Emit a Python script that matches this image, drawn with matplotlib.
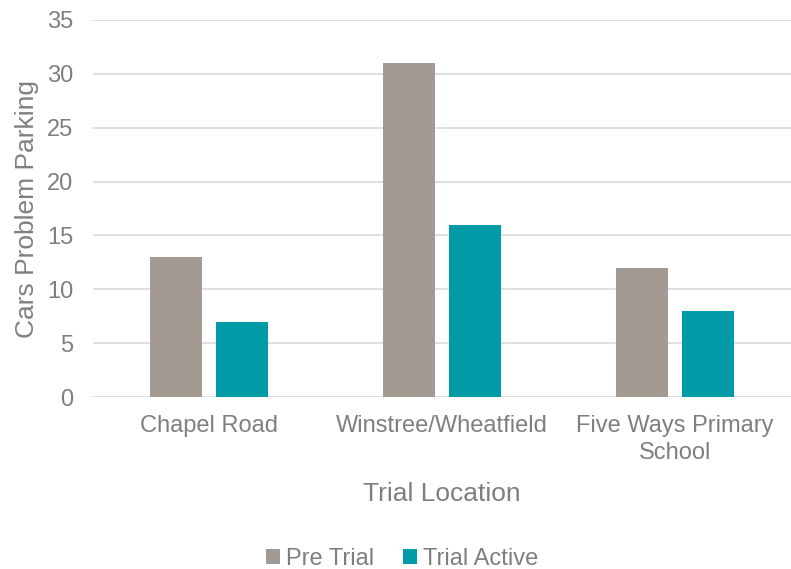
import matplotlib
matplotlib.use("Agg")
import matplotlib.pyplot as plt
import numpy as np

categories = ["Chapel Road", "Winstree/Wheatfield", "Five Ways Primary\nSchool"]
pre_trial = [13, 31, 12]
trial_active = [7, 16, 8]
series_names = ["Pre Trial", "Trial Active"]
yticks = [0, 5, 10, 15, 20, 25, 30, 35]

plt.rcParams['font.family'] = ['Liberation Sans', 'DejaVu Sans']
txt = '#7F7F7F'
c_pre = '#A39A93'
c_act = '#009BA6'

fig = plt.figure(figsize=(7.91, 5.69), dpi=100)
ax = fig.add_axes([93/791, 1-397/569, 698/791, (397-20)/569])

x = np.arange(len(categories))
w = 0.223
off = 0.1415
ax.bar(x - off, pre_trial, w, color=c_pre, label=series_names[0], zorder=3)
ax.bar(x + off, trial_active, w, color=c_act, label=series_names[1], zorder=3)

ax.set_xlim(-0.5, 2.5)
ax.set_ylim(0, 35)
ax.set_yticks(yticks)
ax.set_xticks(x)
ax.set_xticklabels(categories)
ax.yaxis.grid(True, color='#D9D9D9', linewidth=1.2, zorder=0)
ax.set_axisbelow(True)
for s in ax.spines.values():
    s.set_visible(False)
ax.tick_params(axis='y', length=0, pad=14, labelsize=17, labelcolor=txt)
ax.tick_params(axis='x', length=0, pad=13, labelsize=17, labelcolor=txt)
for lab in ax.get_xticklabels():
    lab.set_linespacing(1.3)

ax.set_ylabel("Cars Problem Parking", fontsize=19, color=txt, labelpad=6)
ax.set_xlabel("Trial Location", fontsize=19, color=txt, labelpad=13)

fig.legend(loc='center', bbox_to_anchor=(402/791, 1-559/569), ncol=2, frameon=False,
           fontsize=17, labelcolor=txt, handlelength=0.6, handleheight=0.6,
           handletextpad=0.25, columnspacing=1.2)

fig.savefig("out.png", dpi=100)
